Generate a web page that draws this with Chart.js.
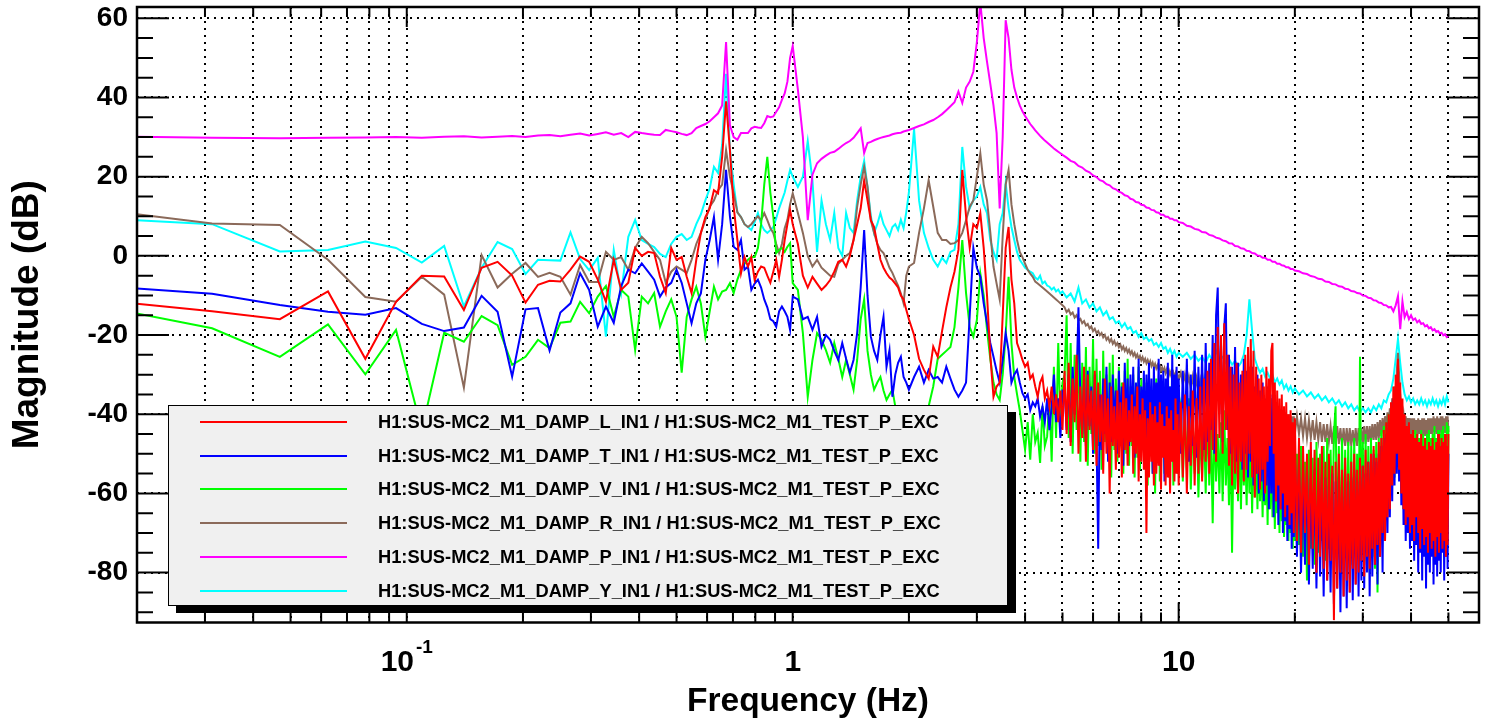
<!DOCTYPE html>
<html>
<head>
<meta charset="utf-8">
<script src="https://cdn.jsdelivr.net/npm/chart.js@4.4.1/dist/chart.umd.min.js"></script>
<style>
  body { margin: 0; background: #fff; }
  #wrap { position: relative; width: 1491px; height: 725px; }
  #legend {
    position: absolute; left: 168px; top: 405px; width: 838px; height: 199px;
    background: #f0f0f0; border: 1px solid #000; box-shadow: 8px 7px 0 #000;
    font: bold 18.3px "Liberation Sans", Arial, sans-serif; color: #000;
  }
  .row { position: absolute; left: 0; height: 20px; width: 100%; }
  .swatch { position: absolute; left: 31px; top: 9px; width: 147px; height: 2px; }
  .label { position: absolute; left: 209px; top: 0; line-height: 20px; white-space: nowrap; }
</style>
</head>
<body>
<div id="wrap">
  <canvas id="tf-chart" width="1491" height="725"></canvas>
  <div id="legend"></div>
</div>
<script>
// frequency bins in Hz, one array per band
const freqLow = [
  0.0156, 0.0313, 0.0469, 0.0625, 0.0781, 0.0938, 0.1094, 0.125,
  0.1406, 0.1563, 0.1719, 0.1875, 0.2031, 0.2188, 0.2344, 0.25,
  0.2656, 0.2813, 0.2969, 0.3125, 0.3281, 0.3438, 0.3594, 0.375,
  0.3906, 0.4063, 0.4219, 0.4375, 0.4531, 0.4688, 0.4844, 0.5,
  0.5156, 0.5313, 0.5469, 0.5625, 0.5781, 0.5938, 0.6094, 0.625,
  0.6406, 0.6563, 0.6719, 0.6875, 0.7031, 0.7188, 0.7344, 0.75,
  0.7656, 0.7813, 0.7969, 0.8125, 0.8281, 0.8438, 0.8594, 0.875,
  0.8906, 0.9063, 0.9219, 0.9375, 0.9531, 0.9688, 0.9844, 1.0
];
const freqMid = [
  1.0313, 1.0625, 1.0938, 1.125, 1.1563, 1.1875, 1.2188, 1.25,
  1.2813, 1.3125, 1.3438, 1.375, 1.4063, 1.4375, 1.4688, 1.5,
  1.5313, 1.5625, 1.5938, 1.625, 1.6563, 1.6875, 1.7188, 1.75,
  1.7813, 1.8125, 1.8438, 1.875, 1.9063, 1.9375, 1.9688, 2.0
];
const freqUpper = [
  2.0625, 2.125, 2.1875, 2.25, 2.3125, 2.375, 2.4375, 2.5,
  2.5625, 2.625, 2.6875, 2.75, 2.8125, 2.875, 2.9375, 3.0,
  3.0625, 3.125, 3.1875, 3.25, 3.3125, 3.375, 3.4375, 3.5,
  3.5625, 3.625, 3.6875, 3.75, 3.8125, 3.875, 3.9375, 4.0,
  4.0625, 4.125, 4.1875, 4.25, 4.3125, 4.375, 4.4375, 4.5,
  4.5625, 4.625, 4.6875, 4.75, 4.8125, 4.875, 4.9375, 5.0
];
// coarse high band (smooth traces)
const freqHigh1 = [
  5.125, 5.25, 5.375, 5.5, 5.625, 5.75, 5.875, 6.0,
  6.125, 6.25, 6.375, 6.5, 6.625, 6.75, 6.875, 7.0,
  7.125, 7.25, 7.375, 7.5, 7.625, 7.75, 7.875, 8.0,
  8.125, 8.25, 8.375, 8.5, 8.625, 8.75, 8.875, 9.0,
  9.125, 9.25, 9.375, 9.5, 9.625, 9.75, 9.875, 10.0
];
const freqHigh2 = [
  10.25, 10.5, 10.75, 11, 11.25, 11.5, 11.75, 12,
  12.25, 12.5, 12.75, 13, 13.25, 13.5, 13.75, 14,
  14.25, 14.5, 14.75, 15, 15.25, 15.5, 15.75, 16,
  16.25, 16.5, 16.75, 17, 17.25, 17.5, 17.75, 18,
  18.25, 18.5, 18.75, 19, 19.25, 19.5, 19.75, 20
];
const freqHigh3 = [
  20.5, 21, 21.5, 22, 22.5, 23, 23.5, 24, 24.5, 25,
  25.5, 26, 26.5, 27, 27.5, 28, 28.5, 29, 29.5, 30,
  30.5, 31, 31.5, 32, 32.5, 33, 33.5, 34, 34.5, 35,
  35.5, 36, 36.5, 37, 37.5, 38, 38.5, 39, 39.5, 40,
  40.5, 41, 41.5, 42, 42.5, 43, 43.5, 44, 44.5, 45,
  45.5, 46, 46.5, 47, 47.5, 48, 48.5, 49, 49.5, 50
];
// dense high band (noisy traces)
const freqHigh1Dense = [
  5.0625, 5.125, 5.1875, 5.25, 5.3125, 5.375, 5.4375, 5.5, 5.5625, 5.625,
  5.6875, 5.75, 5.8125, 5.875, 5.9375, 6.0, 6.0625, 6.125, 6.1875, 6.25,
  6.3125, 6.375, 6.4375, 6.5, 6.5625, 6.625, 6.6875, 6.75, 6.8125, 6.875,
  6.9375, 7.0, 7.0625, 7.125, 7.1875, 7.25, 7.3125, 7.375, 7.4375, 7.5,
  7.5625, 7.625, 7.6875, 7.75, 7.8125, 7.875, 7.9375, 8.0, 8.0625, 8.125,
  8.1875, 8.25, 8.3125, 8.375, 8.4375, 8.5, 8.5625, 8.625, 8.6875, 8.75,
  8.8125, 8.875, 8.9375, 9.0, 9.0625, 9.125, 9.1875, 9.25, 9.3125, 9.375,
  9.4375, 9.5, 9.5625, 9.625, 9.6875, 9.75, 9.8125, 9.875, 9.9375, 10.0
];
const freqHigh2Dense = [
  10.125, 10.25, 10.375, 10.5, 10.625, 10.75, 10.875, 11, 11.125, 11.25,
  11.375, 11.5, 11.625, 11.75, 11.875, 12, 12.125, 12.25, 12.375, 12.5,
  12.625, 12.75, 12.875, 13, 13.125, 13.25, 13.375, 13.5, 13.625, 13.75,
  13.875, 14, 14.125, 14.25, 14.375, 14.5, 14.625, 14.75, 14.875, 15,
  15.125, 15.25, 15.375, 15.5, 15.625, 15.75, 15.875, 16, 16.125, 16.25,
  16.375, 16.5, 16.625, 16.75, 16.875, 17, 17.125, 17.25, 17.375, 17.5,
  17.625, 17.75, 17.875, 18, 18.125, 18.25, 18.375, 18.5, 18.625, 18.75,
  18.875, 19, 19.125, 19.25, 19.375, 19.5, 19.625, 19.75, 19.875, 20
];
const freqHigh3Dense = [
  20.25, 20.5, 20.75, 21, 21.25, 21.5, 21.75, 22, 22.25, 22.5,
  22.75, 23, 23.25, 23.5, 23.75, 24, 24.25, 24.5, 24.75, 25,
  25.25, 25.5, 25.75, 26, 26.25, 26.5, 26.75, 27, 27.25, 27.5,
  27.75, 28, 28.25, 28.5, 28.75, 29, 29.25, 29.5, 29.75, 30,
  30.25, 30.5, 30.75, 31, 31.25, 31.5, 31.75, 32, 32.25, 32.5,
  32.75, 33, 33.25, 33.5, 33.75, 34, 34.25, 34.5, 34.75, 35,
  35.25, 35.5, 35.75, 36, 36.25, 36.5, 36.75, 37, 37.25, 37.5,
  37.75, 38, 38.25, 38.5, 38.75, 39, 39.25, 39.5, 39.75, 40,
  40.25, 40.5, 40.75, 41, 41.25, 41.5, 41.75, 42, 42.25, 42.5,
  42.75, 43, 43.25, 43.5, 43.75, 44, 44.25, 44.5, 44.75, 45,
  45.25, 45.5, 45.75, 46, 46.25, 46.5, 46.75, 47, 47.25, 47.5,
  47.75, 48, 48.25, 48.5, 48.75, 49, 49.25, 49.5, 49.75, 50
];
const bandsCoarse = [freqLow, freqMid, freqUpper, freqHigh1, freqHigh2, freqHigh3];
const bandsDense = [freqLow, freqMid, freqUpper, freqHigh1Dense, freqHigh2Dense, freqHigh3Dense];

// magnitude in dB, one sub-array per frequency band
const dampL = [
  [-11, -14, -16, -9, -26, -11.6, -5, -5.2,
   -13.7, -3, -1.5, -5, -11.8, -7.3, -6.3, -6.5,
   -3.5, -0.2, -1.5, -6, -11.6, -1, -8.6, -6.8,
   2, 0, 1, 0.7, -5.3, -9.4, 2, -1,
   -0.3, -5.3, -9.4, -1, 5.8, 9.8, 12, 16.6,
   15.8, 25, 39, 26.7, 12.4, 4, -4.4, -0.3,
   -2.7, -0.3, -6.1, -4, -2.7, -3, -5, -6.8,
   -4, -1, -5.3, -1, 4, 8, 11.6, 8],
  [3, -5, -8, -5.3, -7, -8.6, -7.5, -6.1,
   -4, -1.5, -1, -2.7, 0, 4, 8, 12,
   19, 14, 9, 7.3, 3, -1, -3, -4.4,
   -5.5, -6.1, -7, -8, -10, -11, -13.6, -16],
  [-20, -26, -28.8, -31, -22.9, -25.5, -19, -13,
   -8, -4, 1.5, 21.7, 10, 2, 8, 7,
   10.8, 2, -10, -25, -35.6, -33, -32, -15,
   2, 7.3, -6, -12, -22, -24, -26.3, -28,
   -27, -31, -30, -33, -35.6, -32, -30.6, -36,
   -34, -38, -33, -40, -35, -42, -34, -44],
  [-29, -45, -27, -48, -31, -42, -25, -50, -33, -46,
   -28, -52, -30, -44, -34, -49, -29, -53, -32, -47,
   -35, -55, -31, -50, -36, -60, -33, -48, -38, -54,
   -34, -51, -37, -56, -32, -49, -36, -53, -39, -47,
   -35, -55, -38, -50, -33, -57, -40, -52, -36, -54,
   -39, -70, -41, -56, -37, -52, -40, -58, -38, -55,
   -42, -53, -37, -59, -40, -51, -43, -58, -38, -56,
   -41, -60, -39, -52, -44, -57, -36, -55, -40, -58],
  [-37, -56, -35, -60, -38, -53, -34, -58, -36, -55,
   -33, -57, -31, -52, -29, -55, -26, -49, -22, -52,
   -18, -46, -20, -50, -17, -44, -25, -53, -28, -58,
   -30, -55, -27, -60, -32, -52, -29, -57, -25, -54,
   -23, -50, -21, -56, -24, -61, -28, -55, -31, -59,
   -30, -54, -33, -60, -28, -52, -31, -48, -24, -22,
   -50, -32, -62, -34, -58, -36, -64, -35, -60, -38,
   -66, -37, -63, -40, -68, -39, -65, -42, -70, -41],
  [-72, -46, -75, -48, -70, -50, -78, -47, -74, -49,
   -80, -51, -76, -48, -79, -52, -82, -50, -77, -53,
   -92, -52, -84, -50, -80, -54, -86, -51, -82, -55,
   -85, -52, -79, -50, -83, -54, -80, -51, -77, -53,
   -81, -49, -76, -52, -79, -50, -74, -48, -78, -51,
   -73, -47, -76, -46, -70, -44, -72, -42, -66, -40,
   -64, -37, -58, -33, -55, -30, -50, -26, -54, -32,
   -60, -36, -64, -40, -68, -43, -66, -42, -70, -45,
   -68, -44, -72, -46, -66, -45, -70, -47, -74, -45,
   -69, -48, -73, -46, -71, -49, -75, -47, -70, -48,
   -74, -46, -72, -49, -76, -47, -71, -45, -75, -48,
   -70, -46, -74, -47, -72, -45, -76, -48, -73, -45]
];
const dampT = [
  [-7.5, -9.6, -12.4, -14.1, -14.9, -13.2, -17.2, -19,
   -18.1, -10.1, -14.1, -30.5, -13.5, -13.2, -23.9, -14.3,
   -12, -4.4, -8.6, -17.9, -12.8, -16.9, -7.6, -3.5,
   -4.4, -1.9, -4, -6, -10.3, -8, -6.8, -3.5,
   -6.8, -12, -17, -12, -9.5, -1, 4, 9.8,
   -1, 8, 21.7, 10, 2.3, 1.5, 4, -3.5,
   -2.7, -8.6, -7, -6, -8, -11, -13, -16,
   -16.5, -17.9, -14, -12.8, -14, -15.4, -18.7, -10.3],
  [-11, -16, -15.4, -18.7, -15.4, -22.9, -20, -21.2,
   -24, -26.3, -22, -26, -29.5, -26.3, -19.5, -8,
   6.5, -10, -20.4, -24, -26.3, -20, -15.4, -28,
   -23.8, -35.6, -30, -27, -25.5, -30.6, -32, -33.8],
  [-30.6, -28, -32, -28.8, -31, -30.6, -32, -28,
   -31, -33.8, -35.6, -34, -32, -15, 2, -3,
   -5.3, -12, -17, -22, -25.5, -29, -32, -26.3,
   -19.5, -24, -32, -30, -28.8, -32, -34.7, -36,
   -35, -39, -37, -38, -36, -40.6, -38, -42,
   -36, -44, -38, -30, -42, -36, -46, -34],
  [-34, -44, -30, -47, -28, -40, -32, -13, -36, -45,
   -31, -48, -29, -43, -33, -50, -30, -46, -74, -35,
   -49, -31, -45, -28, -52, -32, -47, -30, -44, -34,
   -50, -29, -46, -33, -53, -27, -45, -31, -48, -30,
   -44, -28, -51, -32, -47, -26, -49, -33, -43, -29,
   -52, -30, -46, -27, -50, -31, -55, -28, -45, -32,
   -48, -26, -53, -30, -46, -29, -57, -31, -44, -27,
   -50, -33, -47, -25, -52, -30, -45, -28, -49, -31],
  [-50, -29, -46, -26, -52, -30, -48, -24, -51, -28,
   -45, -25, -49, -22, -47, -27, -44, -20, -50, -15,
   -8, -40, -22, -47, -18, -12, -44, -25, -50, -28,
   -46, -23, -52, -27, -48, -30, -54, -26, -50, -29,
   -56, -31, -52, -28, -58, -33, -55, -30, -60, -34,
   -57, -32, -62, -36, -58, -33, -64, -37, -60, -35,
   -66, -39, -62, -41, -68, -43, -64, -40, -70, -44,
   -67, -46, -72, -45, -69, -48, -74, -47, -71, -49],
  [-76, -52, -80, -55, -78, -53, -83, -56, -79, -54,
   -84, -57, -81, -55, -86, -56, -82, -58, -85, -55,
   -88, -57, -84, -56, -90, -58, -86, -55, -89, -57,
   -85, -56, -87, -54, -83, -57, -86, -55, -82, -53,
   -84, -55, -80, -52, -86, -54, -81, -50, -78, -52,
   -83, -50, -76, -48, -80, -46, -72, -45, -70, -42,
   -66, -40, -62, -36, -58, -34, -55, -32, -57, -38,
   -63, -42, -68, -45, -72, -48, -70, -50, -74, -51,
   -72, -50, -77, -52, -73, -51, -80, -53, -75, -50,
   -82, -52, -76, -54, -84, -50, -78, -53, -80, -51,
   -76, -52, -83, -50, -78, -54, -81, -52, -77, -49,
   -80, -51, -75, -50, -82, -52, -76, -49, -79, -50]
];
const dampV = [
  [-12.5, -18.3, -25.5, -17.3, -29.9, -18.7, -44, -19.4,
   -21.7, -15.2, -17.5, -27.5, -25.5, -21.2, -23.3, -16.9,
   -16.6, -11.6, -14.5, -10.3, -7.6, -15.4, -8.6, -10.3,
   -23.8, -10.3, -12, -9.4, -17.9, -14, -11, -15.4,
   -29.5, -15.4, -11, -7.8, -12, -20.4, -14, -7.8,
   -11, -9, -8.6, -6.9, -9.4, -6, -3.5, -2,
   -1, -0.3, -0.3, 2, 8, 18, 25, 16,
   10, 0.7, 1.5, 2, 1, 2.3, 3.2, -6.9],
  [-8.6, -19.5, -35.6, -26.3, -19.5, -21.2, -23.8, -27,
   -22, -26, -30.6, -26.3, -30, -33.8, -26.3, -16,
   -11, -24, -30, -33.8, -32, -30.6, -34, -36.4,
   -35, -33.8, -38, -42, -40, -45, -43, -48],
  [-45, -50, -42, -38, -33, -26, -25, -24,
   -23, -18, -8, 4, -9.4, -18, -20.4, -16.2,
   -4.4, -10, -18.7, -26, -32, -35, -36.4, -30,
   -20, -5.3, -22, -30.6, -35, -39, -44, -49,
   -42, -51.5, -40, -47, -44.7, -52.3, -38, -48,
   -45.6, -36, -52, -28, -46, -22, -42, -32],
  [-30, -15, -46, -22, -50, -25, -44, -20, -52, -27,
   -47, -23, -53, -28, -45, -21, -50, -26, -48, -29,
   -54, -24, -47, -30, -51, -27, -56, -25, -49, -31,
   -52, -28, -46, -32, -55, -29, -50, -26, -53, -33,
   -48, -30, -56, -34, -51, -28, -54, -31, -47, -35,
   -53, -32, -58, -30, -50, -36, -55, -33, -60, -31,
   -52, -34, -57, -37, -49, -32, -55, -35, -51, -38,
   -56, -33, -50, -36, -58, -34, -53, -37, -55, -35],
  [-38, -57, -40, -54, -36, -59, -42, -55, -39, -61,
   -43, -56, -41, -60, -38, -58, -44, -67.5, -40, -57,
   -45, -60, -42, -62, -39, -58, -46, -63, -43, -75,
   -47, -59, -44, -62, -41, -64, -45, -58, -48, -63,
   -43, -60, -46, -65, -44, -61, -47, -64, -45, -62,
   -48, -66, -46, -63, -49, -68, -45, -64, -47, -66,
   -50, -69, -48, -65, -51, -70, -47, -67, -49, -71,
   -52, -68, -50, -72, -48, -70, -53, -74, -50, -72],
  [-50, -73, -48, -76, -52, -82, -49, -74, -51, -78,
   -47, -75, -50, -72, -48, -77, -46, -74, -49, -72,
   -45, -38, -75, -48, -78, -46, -73, -49, -76, -47,
   -74, -48, -78, -46, -72, -50, -75, -25.5, -72, -47,
   -78, -45, -74, -48, -80, -46, -76, -49, -79, -47,
   -85, -46, -70, -44, -72, -43, -66, -42, -64, -40,
   -62, -38, -58, -36, -56, -33, -52, -30, -55, -37,
   -60, -42, -64, -44, -66, -45, -68, -46, -64, -45,
   -66, -46, -70, -44, -67, -45, -72, -46, -68, -44,
   -70, -45, -66, -46, -72, -45, -68, -44, -70, -46,
   -66, -45, -70, -43, -67, -46, -72, -44, -68, -45,
   -66, -44, -70, -43, -68, -45, -66, -42, -69, -43]
];
const dampR = [
  [11.8, 8.2, 7.8, -1, -10.4, -11.6, -5.3, -9.8,
   -33.3, 0.2, -8, -4.5, -1.8, -5.3, -4.3, -5.3,
   -9.8, -2.3, -6.6, -6.6, 1, -1, -0.3, -3.5,
   2, 4.8, 3.2, 1, -1, -6.8, -4, -2.7,
   -3.5, -4.3, -1, 3, 5.8, 9, 12.4, 14,
   16.6, 18, 26.7, 20, 15.8, 11, 9.8, 8,
   7.3, 8, 9.1, 10, 9, 10.8, 9, 7,
   5.8, 3, 0.7, 3, 7, 9.1, 13, 15.8],
  [10.8, 5.8, 0, -2.7, -1, -3, -4, -5,
   -5.3, -2, -1, 0, 0.7, 4, 12.4, 18,
   22.5, 17.4, 9, 5.8, 3, 1.5, 0.7, -1,
   -3, -4.3, -6, -7.5, -9.5, -12, -5, -2.7],
  [-1.8, 5.8, 12, 19.1, 12.4, 5.8, 4, 4,
   3, 3.2, 4, 5.8, 9, 12.4, 14, 20,
   25.9, 18, 14, 6, -2.7, -7, -11, 5,
   18, 21.7, 13, 8, 4, 1, -0.3, -2,
   -3.5, -4.5, -5.3, -6.5, -7, -7.5, -8, -8.5,
   -9, -9.5, -10, -10.5, -11, -11.5, -12, -12.5],
  [-13, -14.2, -13.6, -14.8, -14.3, -15.6, -15.0, -16.2, -15.9, -17.0,
   -16.5, -17.6, -17.2, -18.3, -17.8, -19.0, -18.4, -19.5, -19.0, -20.0,
   -19.5, -20.6, -20.0, -21.2, -20.6, -21.7, -21.0, -22.2, -21.5, -22.6,
   -22.0, -23.1, -22.4, -23.6, -22.9, -24.0, -23.3, -24.4, -23.7, -24.8,
   -24.1, -25.2, -24.5, -25.6, -24.9, -26.0, -25.3, -26.4, -25.6, -26.7,
   -26.0, -27.1, -26.3, -27.4, -26.6, -27.8, -27.0, -28.1, -27.3, -28.4,
   -27.6, -28.7, -27.9, -29.0, -28.2, -29.3, -28.4, -29.6, -28.7, -29.8,
   -29.0, -30.1, -29.2, -30.4, -29.5, -30.6, -29.7, -30.9, -30.0, -31.1],
  [-29.5, -32.5, -30, -33, -30.5, -33.5, -30.5, -34, -31, -34.5,
   -31.5, -35, -31.5, -35.5, -32, -36, -32.5, -36, -33, -36.5,
   -33, -37, -33.5, -37.5, -34, -37.5, -34, -38, -34.5, -38.5,
   -35, -38.5, -35, -39, -35.5, -39, -35, -38, -33, -36,
   -31, -28, -33, -37, -36, -40, -36.5, -40.5, -37, -41,
   -37, -41.5, -37.5, -41.5, -38, -42, -37, -40, -36, -41,
   -38.5, -42.5, -38.5, -43, -39, -43, -39, -43.5, -39.5, -44,
   -39.5, -44, -40, -44.5, -40, -44.5, -40.5, -45, -40.5, -45],
  [-40.5, -45, -41, -45.5, -41, -46, -41.5, -46, -41.5, -46.5,
   -42, -46.5, -42, -47, -42.5, -47, -42.5, -47, -43, -47.5,
   -43, -47.5, -43, -47.5, -43.5, -48, -43.5, -48, -43.5, -48,
   -43.5, -48, -44, -48, -43.5, -48, -43.5, -47.5, -43.5, -47.5,
   -43, -47.5, -43, -47, -43, -47, -42.5, -46.5, -42.5, -46.5,
   -42, -46, -41.5, -45.5, -41, -45, -40.5, -44, -39.5, -43,
   -38.5, -41, -36, -39, -33, -36, -29, -24.5, -30, -35,
   -38, -42, -40, -43.5, -40.5, -44, -41, -44.5, -41, -45,
   -41, -45, -41, -45, -41.5, -45.5, -41, -45, -41.5, -45.5,
   -41, -45, -41, -45.5, -41.5, -45, -41, -45.5, -41, -45,
   -41, -45, -40.5, -44.5, -41, -45, -40.5, -44.5, -41, -45,
   -40.5, -44.5, -40.5, -44.5, -41, -44.5, -40.5, -44, -40.5, -44.5]
];
const dampP = [
  [30.2, 29.8, 29.7, 29.8, 29.9, 30.0, 29.8, 30.1,
   30.2, 29.9, 30.1, 30.3, 30.0, 30.4, 30.5, 30.2,
   30.6, 30.9, 30.4, 30.8, 31.2, 30.6, 31.0, 30.0,
   31.3, 31.0, 30.8, 30.6, 30.5, 31.8, 31.5, 31.2,
   30.8, 30.5, 31.0, 32.3, 32.8, 33.3, 34.0, 35.0,
   36.0, 38.0, 54.0, 33.0, 30.0, 29.3, 31.0, 31.0,
   31.0, 32.2, 32.6, 32.4, 32.3, 33.5, 35.3, 35.0,
   35.2, 36.4, 37.5, 39.4, 41.0, 44.0, 50.0, 53.0],
  [42, 30, 9, 20.5, 23.4, 24.5, 25.3, 26,
   26.3, 27, 27.8, 28.5, 29, 29.8, 31, 32.2,
   26, 28.5, 28.8, 29.2, 29.5, 29.8, 30, 30.2,
   30.4, 30.7, 30.9, 31, 31.1, 31.4, 31.6, 31.8],
  [32.3, 32.8, 33.2, 33.8, 34.3, 35, 35.8, 36.8,
   37.8, 38.8, 41.5, 38.6, 42.5, 44, 46.5, 54,
   64, 55, 49, 43.5, 38, 31, 12, 30,
   59.5, 55, 47, 42.5, 40, 38, 36.5, 35.3,
   34.3, 33.3, 32.5, 31.7, 31, 30.3, 29.7, 29.1,
   28.6, 28.1, 27.6, 27.1, 26.7, 26.3, 25.9, 25.5],
  [24.8, 24.0, 23.6, 22.7, 22.3, 21.5, 21.1, 20.3,
   19.9, 19.1, 18.8, 18.1, 17.8, 17.1, 16.8, 16.2,
   15.9, 15.3, 15.1, 14.4, 14.2, 13.6, 13.5, 12.9,
   12.8, 12.2, 12.1, 11.6, 11.5, 11.0, 10.9, 10.4,
   10.4, 9.9, 9.9, 9.4, 9.4, 9.0, 9.0, 8.5],
  [8.3, 7.6, 7.4, 6.8, 6.6, 6.0, 5.9, 5.3,
   5.1, 4.6, 4.4, 3.9, 3.7, 3.2, 3.1, 2.5,
   2.4, 1.9, 1.8, 1.3, 1.2, 0.7, 0.6, 0.1,
   0.0, -0.5, -0.5, -1.0, -1.0, -1.5, -1.5, -2.0,
   -2.0, -2.4, -2.5, -2.9, -2.9, -3.3, -3.3, -3.7],
  [-3.9, -4.4, -4.6, -5.1, -5.3, -5.8, -5.9, -6.5, -6.6, -7.1,
   -7.2, -7.7, -7.8, -8.3, -8.4, -8.9, -9.0, -9.4, -9.5, -10.0,
   -10.1, -10.6, -10.7, -11.2, -11.3, -11.8, -11.9, -12.4, -12.5, -13.0,
   -12.9, -14.0, -12.5, -10.2, -18.5, -11.5, -15.5, -14.2, -16.0, -15.0,
   -16.2, -15.8, -16.8, -16.3, -17.2, -17.0, -17.8, -17.5, -18.3, -18.0,
   -18.8, -18.5, -19.2, -19.0, -19.6, -19.4, -20.1, -19.8, -20.5, -20.2]
];
const dampY = [
  [9.5, 8.0, 1.1, 1.5, 3.6, 2.0, -1.7, 2.5,
   -12.8, -3.0, 3.5, 1.7, -4.6, -1.0, -1.1, -1.2,
   5.9, -0.8, -3.6, -0.5, -20.4, 1.5, -9.4, 4.8,
   9.1, 4.0, 3.0, 2.2, 0.5, -0.3, 3.0, 4.8,
   5.5, 4.0, 4.8, 8.0, 10.5, 14.0, 17.0, 22.5,
   20.9, 28.0, 46.0, 27.0, 18.0, 11.0, 9.8, 8.0,
   7.3, 6.5, 8.5, 10.8, 8.0, 6.5, 5.8, 6.5,
   7.3, 9.5, 12.0, 14.0, 16.0, 19.0, 21.7, 20.0],
  [17.4, 20, 29, 19, 1, 14, 8, 4,
   10.8, 2, 0, 10.8, 7, 5.8, 14, 20,
   24, 17.4, 10, 5.8, 8, 10.8, 8, 6.5,
   5, 7.3, 8, 6.5, 9.1, 7, 11, 16],
  [32, 14, 5.8, 2, -1, -2.7, -0.5, -1.8,
   1, 1.5, 8, 27.5, 17.4, 12, 14, 15,
   17.4, 13, 10.8, 4, 1, -1, 8, 10.8,
   18.3, 12, 7.3, 4, 1, -1, -2, -3,
   -3.5, -4, -4.4, -5.5, -6, -5, -7, -6.5,
   -7.5, -7.8, -8.5, -8, -9, -8.5, -9.5, -9],
  [-10.5, -9.5, -11.5, -8, -12, -11, -13, -12,
   -14, -13, -15, -14, -16, -15.5, -17, -16.5,
   -18, -17, -18.5, -18, -19.5, -19, -20.5, -19.5,
   -21, -20.5, -21.5, -21, -22.5, -22, -23, -22,
   -23.5, -23, -24.5, -23.5, -25, -24, -25.5, -24.5],
  [-25.5, -24.5, -26, -25, -26.5, -25.5, -27, -25,
   -26.5, -24, -26, -25.5, -27, -26, -27.5, -26.5,
   -28, -27, -25, -20, -11, -19, -26, -28,
   -29.5, -28.5, -30.5, -29.5, -31, -30, -32, -31,
   -32.5, -31.5, -33.5, -32.5, -34, -33, -34.5, -33.5],
  [-35, -34, -35.5, -34.5, -36, -35, -36.5, -35.5, -37, -36,
   -37.5, -36.5, -38, -37, -38.5, -37.5, -39, -38, -39.5, -38.5,
   -39.5, -38.5, -39.5, -38, -39, -37.5, -38.5, -36.5, -37, -35,
   -34, -31, -26, -21, -27, -32, -35, -36.5, -35.5, -37,
   -36, -37.5, -36.5, -37.5, -36, -37.5, -36.5, -38, -36.5, -37.5,
   -36, -37.5, -36.5, -38, -36.5, -37.5, -36, -37.5, -35.5, -37]
];

const seriesNames = [
  'H1:SUS-MC2_M1_DAMP_L_IN1 / H1:SUS-MC2_M1_TEST_P_EXC',
  'H1:SUS-MC2_M1_DAMP_T_IN1 / H1:SUS-MC2_M1_TEST_P_EXC',
  'H1:SUS-MC2_M1_DAMP_V_IN1 / H1:SUS-MC2_M1_TEST_P_EXC',
  'H1:SUS-MC2_M1_DAMP_R_IN1 / H1:SUS-MC2_M1_TEST_P_EXC',
  'H1:SUS-MC2_M1_DAMP_P_IN1 / H1:SUS-MC2_M1_TEST_P_EXC',
  'H1:SUS-MC2_M1_DAMP_Y_IN1 / H1:SUS-MC2_M1_TEST_P_EXC'
];
const seriesValues = [dampL, dampT, dampV, dampR, dampP, dampY];
const seriesBands = [bandsDense, bandsDense, bandsDense, bandsDense, bandsCoarse, bandsCoarse];
const seriesColors = ['#ff0000', '#0000ff', '#00ff00', '#8b6a5a', '#ff00ff', '#00ffff'];

const xTickValues = [0.02, 0.03, 0.04, 0.05, 0.06, 0.07, 0.08, 0.09,
  0.1, 0.2, 0.3, 0.4, 0.5, 0.6, 0.7, 0.8, 0.9,
  1, 2, 3, 4, 5, 6, 7, 8, 9, 10, 20, 30, 40, 50, 60];
const xLabelValues = [0.1, 1, 10];
const xLabelBase = ['10', '1', '10'];
const xLabelExp = ['-1', '', ''];
const yTickValues = [-80, -60, -40, -20, 0, 20, 40, 60];

const FONT = '"Liberation Sans", Arial, Helvetica, sans-serif';

function toPoints(bands, values) {
  const pts = [];
  values.forEach((vals, b) => {
    bands[b].forEach((f, i) => {
      if (vals[i] !== undefined) pts.push({ x: f, y: vals[i] });
    });
  });
  return pts;
}

const datasets = seriesNames.map((name, i) => ({
  label: name,
  data: toPoints(seriesBands[i], seriesValues[i]),
  borderColor: seriesColors[i],
  backgroundColor: seriesColors[i],
  borderWidth: 2,
  pointRadius: 0,
  tension: 0,
  fill: false
}));

// legend box drawn inside the plot, like the original
const legendBox = document.getElementById('legend');
seriesNames.forEach((name, i) => {
  const row = document.createElement('div');
  row.className = 'row';
  row.style.top = (6 + i * 33.7) + 'px';
  row.innerHTML = '<span class="swatch" style="background:' + seriesColors[i] + '"></span>' +
    '<span class="label">' + name + '</span>';
  legendBox.appendChild(row);
});

// frame, inward ticks on all four sides, and decade labels with exponents
const frameTicks = {
  id: 'frameTicks',
  afterDatasetsDraw(chart) {
    const { ctx, chartArea: a, scales: { x, y } } = chart;
    ctx.save();
    ctx.strokeStyle = '#000';
    ctx.lineWidth = 2;
    ctx.beginPath();
    xTickValues.forEach(v => {
      const px = x.getPixelForValue(v);
      const len = xLabelValues.includes(v) ? 20 : 10;
      ctx.moveTo(px, a.bottom); ctx.lineTo(px, a.bottom - len);
      ctx.moveTo(px, a.top); ctx.lineTo(px, a.top + len);
    });
    for (let v = -90; v <= 60; v += 5) {
      const py = y.getPixelForValue(v);
      const len = v % 20 === 0 ? 32 : 16;
      ctx.moveTo(a.left, py); ctx.lineTo(a.left + len, py);
      ctx.moveTo(a.right, py); ctx.lineTo(a.right - len, py);
    }
    ctx.stroke();
    ctx.lineWidth = 2.5;
    ctx.strokeRect(a.left, a.top, a.right - a.left, a.bottom - a.top);

    ctx.fillStyle = '#000';
    ctx.textBaseline = 'alphabetic';
    ctx.textAlign = 'left';
    xLabelValues.forEach((v, i) => {
      const px = x.getPixelForValue(v);
      ctx.font = 'bold 30px ' + FONT;
      const wb = ctx.measureText(xLabelBase[i]).width;
      ctx.font = 'bold 19px ' + FONT;
      const we = xLabelExp[i] ? ctx.measureText(xLabelExp[i]).width + 2 : 0;
      const x0 = px - (wb + we) / 2;
      ctx.font = 'bold 30px ' + FONT;
      ctx.fillText(xLabelBase[i], x0, a.bottom + 48);
      if (xLabelExp[i]) {
        ctx.font = 'bold 19px ' + FONT;
        ctx.fillText(xLabelExp[i], x0 + wb + 2, a.bottom + 30);
      }
    });
    ctx.restore();
  }
};

const ctx = document.getElementById('tf-chart').getContext('2d');
new Chart(ctx, {
  type: 'line',
  data: { datasets: datasets },
  options: {
    responsive: false,
    animation: false,
    layout: { padding: { top: 7, right: 12, left: 0, bottom: 0 } },
    plugins: { legend: { display: false }, tooltip: { enabled: false } },
    scales: {
      x: {
        type: 'logarithmic',
        min: 0.02,
        max: 60,
        afterBuildTicks: scale => { scale.ticks = xTickValues.map(v => ({ value: v })); },
        afterFit: scale => {
          scale.height = 102.5;
          scale.paddingLeft = 0; scale.paddingRight = 0;
          scale.paddingTop = 0; scale.paddingBottom = 0;
        },
        grid: { color: '#000', lineWidth: 2, drawTicks: false },
        border: { display: false, dash: [2, 5] },
        ticks: { display: false, autoSkip: false },
        title: {
          display: true,
          text: 'Frequency (Hz)',
          color: '#000',
          font: { family: FONT, weight: 'bold', size: 33.5 },
          padding: { top: 0, bottom: 3 }
        }
      },
      y: {
        min: -92.6,
        max: 62.85,
        afterBuildTicks: scale => { scale.ticks = yTickValues.map(v => ({ value: v })); },
        afterFit: scale => {
          scale.width = 137;
          scale.paddingLeft = 0; scale.paddingRight = 0;
          scale.paddingTop = 0; scale.paddingBottom = 0;
        },
        grid: { color: '#000', lineWidth: 2, drawTicks: false },
        border: { display: false, dash: [2, 5] },
        ticks: {
          padding: 9,
          color: '#000',
          font: { family: FONT, weight: 'bold', size: 28 }
        },
        title: {
          display: true,
          text: 'Magnitude (dB)',
          color: '#000',
          font: { family: FONT, weight: 'bold', size: 37 },
          padding: { top: 6, bottom: 0 }
        }
      }
    }
  },
  plugins: [frameTicks]
});
</script>
</body>
</html>
